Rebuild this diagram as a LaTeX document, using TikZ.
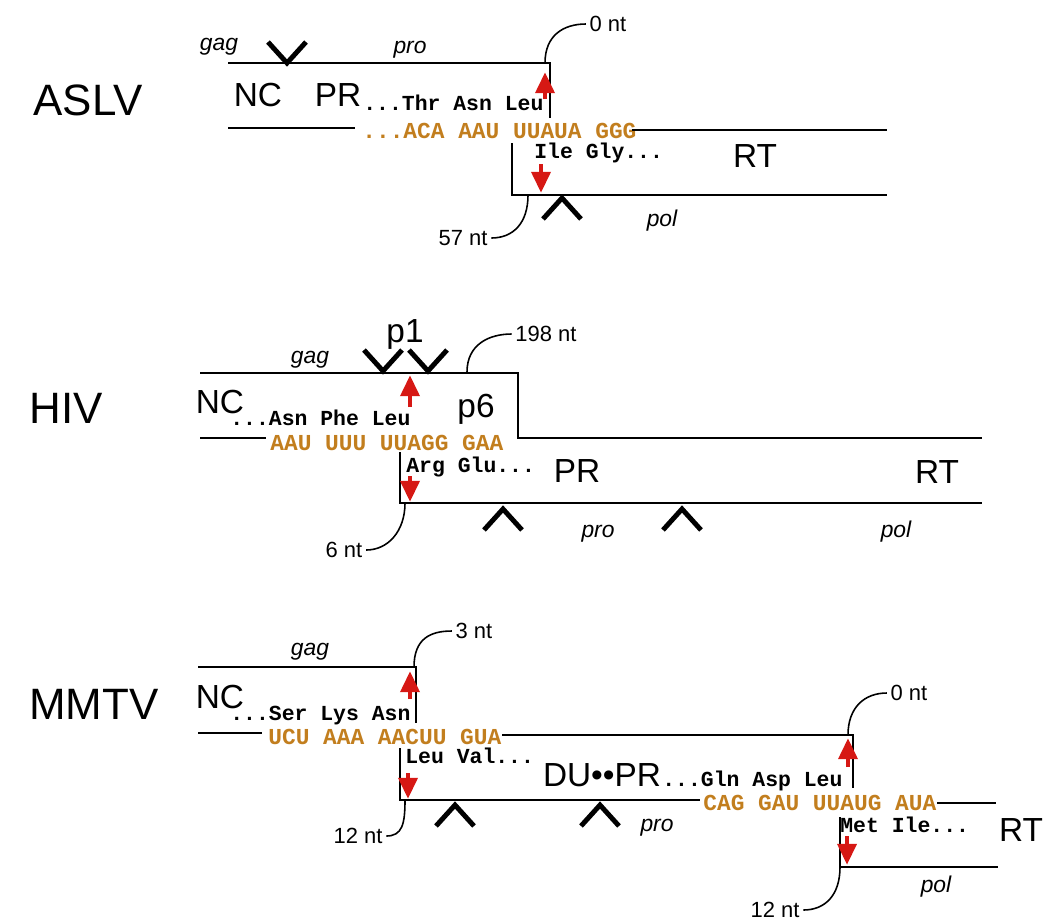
\documentclass[tikz,border=0pt]{standalone}
\usepackage{fontspec}
\setmainfont{Liberation Sans}
\setmonofont{Liberation Mono}
\usetikzlibrary{arrows.meta}

\definecolor{nucorange}{RGB}{194,126,30}
\definecolor{arrowred}{RGB}{214,24,20}

\tikzset{
  strand/.style={line width=1.1pt},
  cleave/.style={line width=2.8pt},
  slip/.style={draw=arrowred, line width=2.8pt, -{Triangle[length=12pt,width=10.5pt]}},
  leadline/.style={line width=0.9pt},
  virus/.style={inner sep=0pt, font=\fontsize{25}{25}\selectfont},
  protein/.style={inner sep=0pt, font=\fontsize{19}{19}\selectfont},
  aa/.style={inner sep=0pt, anchor=base west, font=\fontsize{12.2}{12}\ttfamily\bfseries},
  nuc/.style={inner sep=0pt, anchor=base west, text=nucorange, font=\fontsize{13}{13}\ttfamily\bfseries},
  gene/.style={inner sep=0pt, font=\fontsize{13}{13}\itshape},
  ntlabel/.style={inner sep=2pt, font=\fontsize{12.5}{12.5}\selectfont},
}

\begin{document}
\begin{tikzpicture}[x=0.02cm, y=-0.02cm]
    \useasboundingbox (0,0) rectangle (1047,921);

    % パラメータ
    \pgfmathsetmacro{\cw}{19}
    \pgfmathsetmacro{\ch}{21}

    %% ASLV
    % 角の座標
    \coordinate (a0) at (545,63);
    \coordinate (a57) at (528,195);

    % ラベル
    \node [virus] (aslv) at (88,100) {ASLV};
    \node [gene] (aslvgag) at (219,47) {gag};
    \node [gene] (aslvpro) at (410,50) {pro};
    \node [gene] (aslvpol) at (662,221) {pol};
    \node [protein] (aslvnc) at (258,95) {NC};
    \node [protein] (aslvpr) at (338,95) {PR};
    \node [protein] (aslvrt) at (755,156) {RT};
    \node [aa] (aslvup) at (363,110) {...Thr Asn Leu};
    \node [nuc] (aslvseq) at (362,138) {...ACA AAU UUAUA GGG};
    \node [aa] (aslvdown) at (534,158) {Ile Gly...};
    \node [ntlabel] (aslvzero) at (608,24) {0 nt};
    \node [ntlabel] (aslvfs) at (463,238) {57 nt};

    % 線の描画
    \draw [strand] (228,63) -- (550,63) -- (550,118);
    \draw [strand] (228,128) -- (355,128);
    \draw [strand] (632,130) -- (887,130);
    \draw [strand] (512,143) -- (512,195) -- (887,195);
    \draw [cleave] (287,63) ++(-\cw,-\ch) -- ++(\cw,\ch) -- ++(\cw,-\ch);
    \draw [cleave] (562,198) ++(-\cw,\ch) -- ++(\cw,-\ch) -- ++(\cw,\ch);
    \draw [leadline] (a0) .. controls +(0,-28) and +(-22,0) .. (aslvzero.west);
    \draw [leadline] (a57) .. controls +(0,28) and +(22,0) .. (aslvfs.east);
    \draw [slip] (545,99) -- (545,72);
    \draw [slip] (541,164) -- (541,193);

    %% HIV
    \coordinate (h198) at (467,372);
    \coordinate (h6) at (405,503);

    \node [virus] (hiv) at (66,408) {HIV};
    \node [gene] (hivgag) at (310,360) {gag};
    \node [gene] (hivpro) at (598,534) {pro};
    \node [gene] (hivpol) at (896,532) {pol};
    \node [protein] (hivp1) at (405,334) {p1};
    \node [protein] (hivnc) at (220,402) {NC};
    \node [protein] (hivp6) at (476,409) {p6};
    \node [protein] (hivpr) at (577,471) {PR};
    \node [protein] (hivrt) at (937,472) {RT};
    \node [aa] (hivup) at (230,425) {...Asn Phe Leu};
    \node [nuc] (hivseq) at (270,450) {AAU UUU UUAGG GAA};
    \node [aa] (hivdown) at (406,472) {Arg Glu...};
    \node [ntlabel] (hivdist) at (546,334) {198 nt};
    \node [ntlabel] (hivfs) at (344,550) {6 nt};

    \draw [strand] (200,373) -- (518,373) -- (518,438) -- (982,438);
    \draw [strand] (200,438) -- (266,438);
    \draw [strand] (400,452) -- (400,503) -- (982,503);
    \draw [cleave] (383,371) ++(-\cw,-\ch) -- ++(\cw,\ch) -- ++(\cw,-\ch);
    \draw [cleave] (428,371) ++(-\cw,-\ch) -- ++(\cw,\ch) -- ++(\cw,-\ch);
    \draw [cleave] (503,509) ++(-\cw,\ch) -- ++(\cw,-\ch) -- ++(\cw,\ch);
    \draw [cleave] (682,509) ++(-\cw,\ch) -- ++(\cw,-\ch) -- ++(\cw,\ch);
    \draw [leadline] (h198) .. controls +(0,-28) and +(-22,0) .. (hivdist.west);
    \draw [leadline] (h6) .. controls +(0,28) and +(22,0) .. (hivfs.east);
    \draw [slip] (410,407) -- (410,375);
    \draw [slip] (410,476) -- (410,502);

    %% MMTV
    \coordinate (m3) at (414,667);
    \coordinate (m12) at (405,800);
    \coordinate (m0) at (848,735);
    \coordinate (m12b) at (840,867);

    \node [virus] (mmtv) at (94,704) {MMTV};
    \node [gene] (mmtvgag) at (310,652) {gag};
    \node [gene] (mmtvpro) at (657,828) {pro};
    \node [gene] (mmtvpol) at (936,887) {pol};
    \node [protein] (mmtvnc) at (220,697) {NC};
    \node [protein] (mmtvdu) at (602,775) {DU\textbullet{}\textbullet{}PR};
    \node [protein] (mmtvrt) at (1021,830) {RT};
    \node [aa] (mmtvup) at (230,720) {...Ser Lys Asn};
    \node [nuc] (mmtvseq) at (268,744) {UCU AAA AACUU GUA};
    \node [aa] (mmtvdown) at (405,763) {Leu Val...};
    \node [aa] (mmtvupb) at (662,786) {...Gln Asp Leu};
    \node [nuc] (mmtvseqb) at (703,810) {CAG GAU UUAUG AUA};
    \node [aa] (mmtvdownb) at (840,832) {Met Ile...};
    \node [ntlabel] (mmtvdist) at (474,631) {3 nt};
    \node [ntlabel] (mmtvfs) at (358,836) {12 nt};
    \node [ntlabel] (mmtvzero) at (909,693) {0 nt};
    \node [ntlabel] (mmtvfsb) at (775,910) {12 nt};

    \draw [strand] (198,667) -- (416,667) -- (416,723);
    \draw [strand] (198,733) -- (262,733);
    \draw [strand] (502,735) -- (853,735) -- (853,788);
    \draw [strand] (400,748) -- (400,800) -- (700,800);
    \draw [strand] (937,803) -- (996,803);
    \draw [strand] (840,817) -- (840,867) -- (998,867);
    \draw [cleave] (455,805) ++(-\cw,\ch) -- ++(\cw,-\ch) -- ++(\cw,\ch);
    \draw [cleave] (600,805) ++(-\cw,\ch) -- ++(\cw,-\ch) -- ++(\cw,\ch);
    \draw [leadline] (m3) .. controls +(0,-28) and +(-22,0) .. (mmtvdist.west);
    \draw [leadline] (m12) .. controls +(0,24) and +(16,0) .. (mmtvfs.east);
    \draw [leadline] (m0) .. controls +(0,-28) and +(-22,0) .. (mmtvzero.west);
    \draw [leadline] (m12b) .. controls +(0,28) and +(22,0) .. (mmtvfsb.east);
    \draw [slip] (410,699) -- (410,671);
    \draw [slip] (408,773) -- (408,799);
    \draw [slip] (848,767) -- (848,738);
    \draw [slip] (847,836) -- (847,865);

\end{tikzpicture}
\end{document}
